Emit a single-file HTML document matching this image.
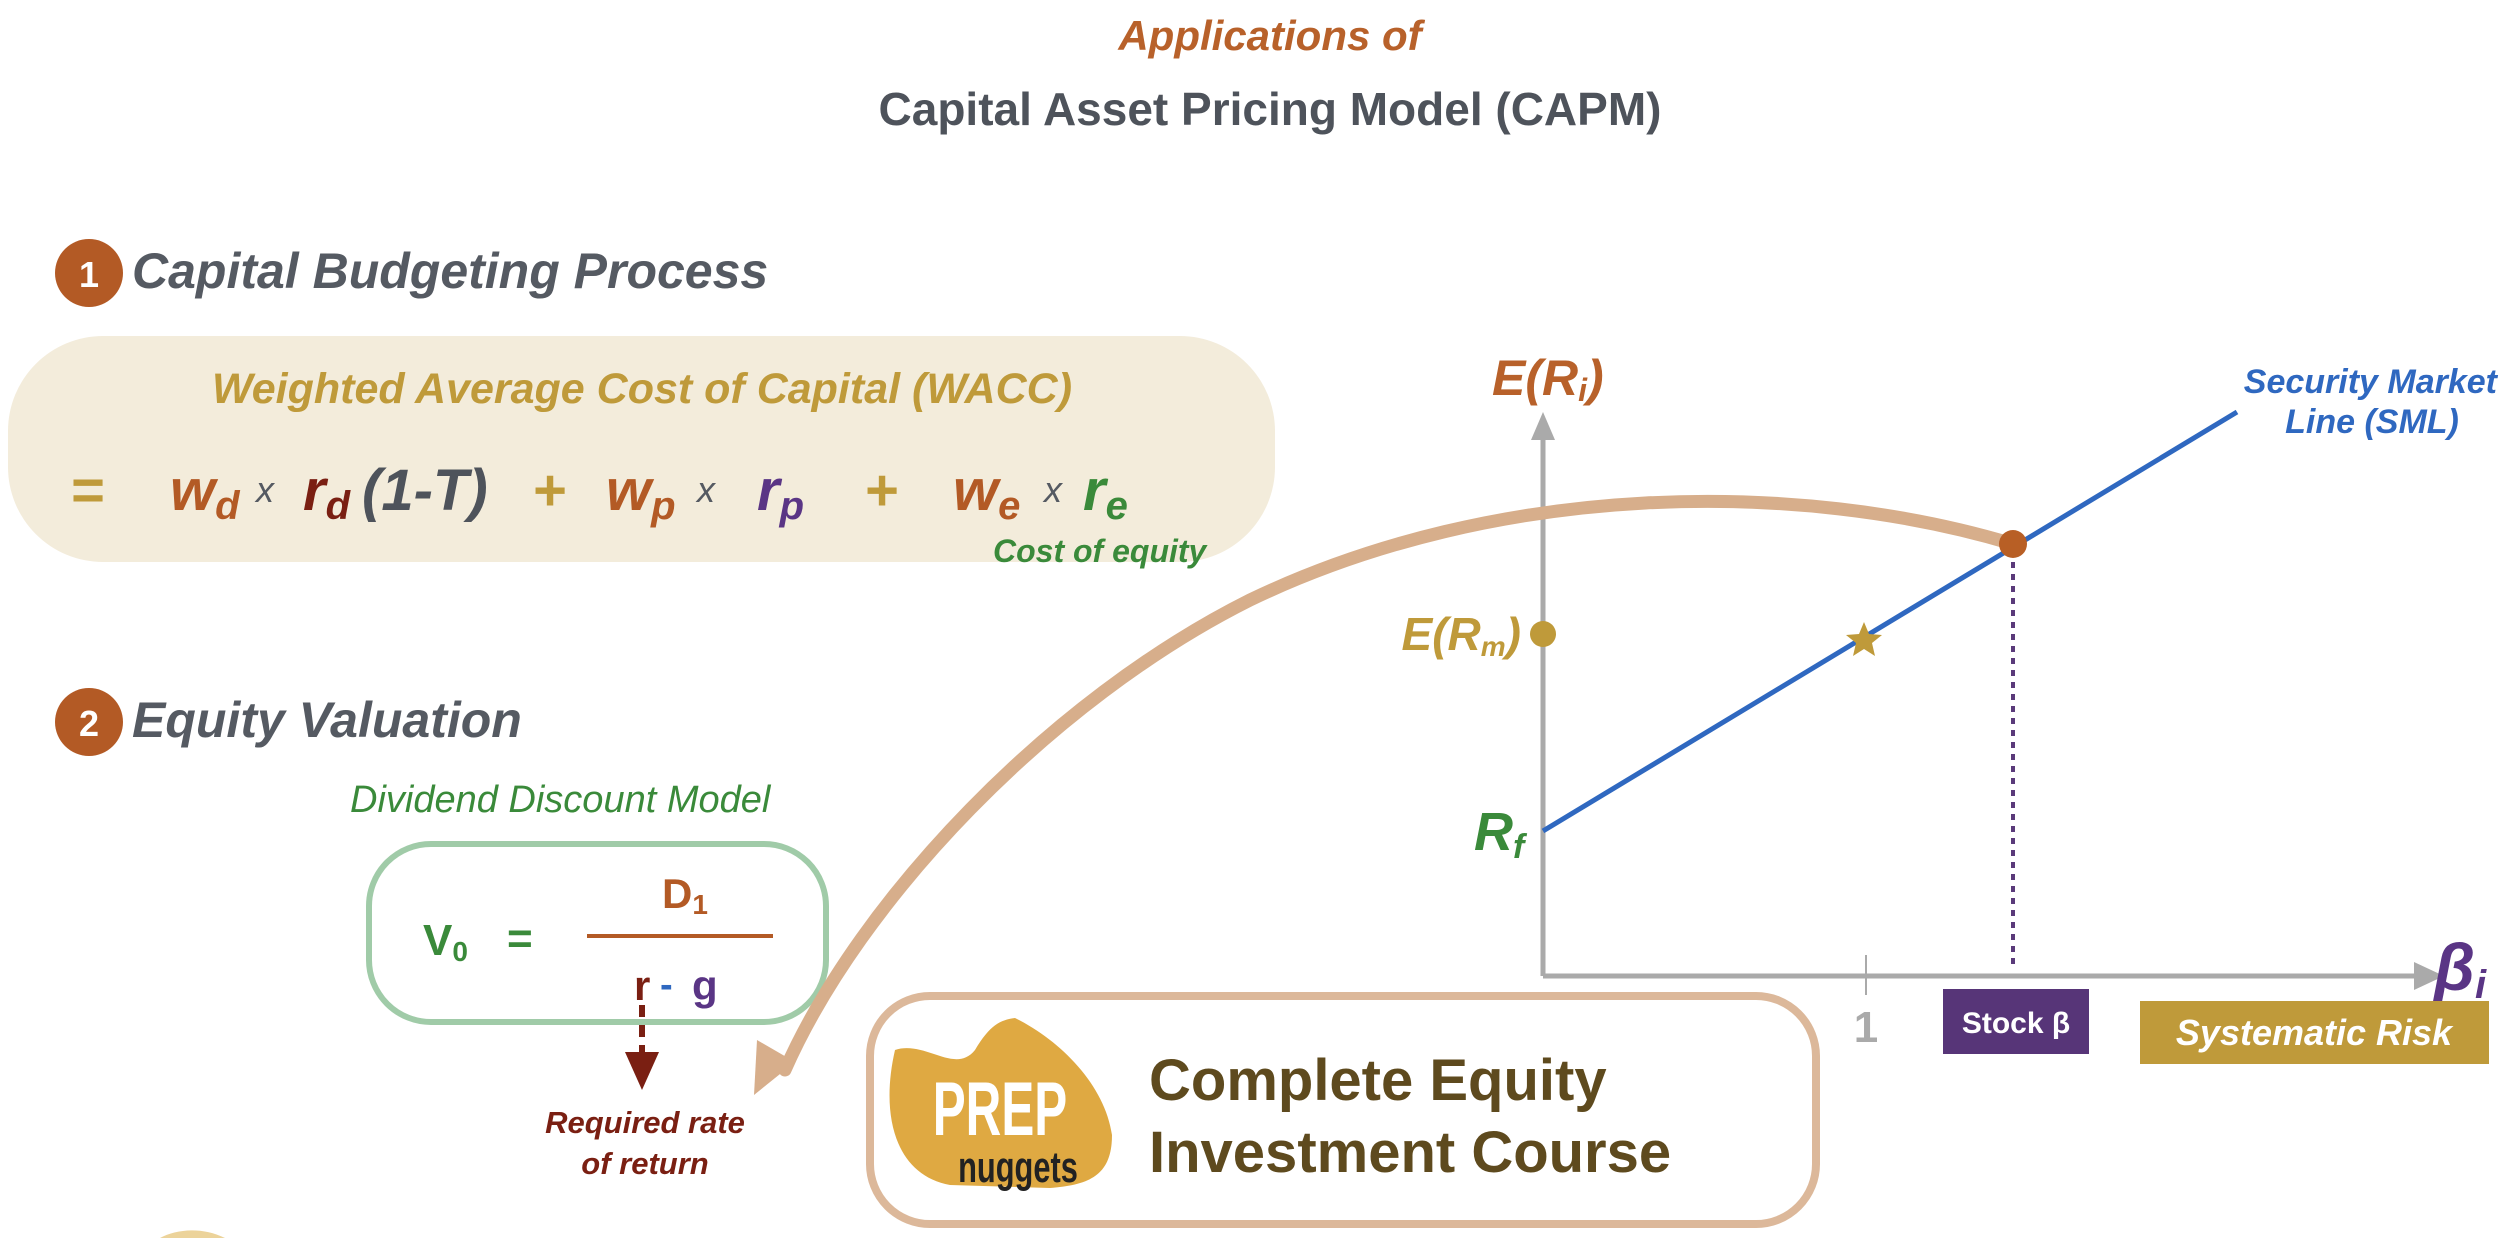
<!DOCTYPE html>
<html><head><meta charset="utf-8"><style>
html,body{margin:0;padding:0;background:#fff}
svg{display:block}
text{font-family:"Liberation Sans",Arial,sans-serif}
</style></head><body>
<svg width="2518" height="1238" viewBox="0 0 2518 1238" xmlns="http://www.w3.org/2000/svg">
<text x="1270" y="50" text-anchor="middle" font-size="42" font-weight="bold" font-style="italic" fill="#b8612a">Applications of</text>
<text x="1270" y="125" text-anchor="middle" font-size="46" font-weight="bold" fill="#4e535b">Capital Asset Pricing Model (CAPM)</text>

<circle cx="89" cy="273" r="34" fill="#b35a25"/>
<text x="89" y="287" text-anchor="middle" font-size="36" font-weight="bold" fill="#fff">1</text>
<text x="132" y="288" font-size="50" font-weight="bold" font-style="italic" fill="#555a62">Capital Budgeting Process</text>

<rect x="8" y="336" width="1267" height="226" rx="95" fill="#f3ecdb"/>
<text x="642" y="403" text-anchor="middle" font-size="43" font-weight="bold" font-style="italic" fill="#bf9a3a">Weighted Average Cost of Capital (WACC)</text>
<g font-weight="bold" font-style="italic" font-size="58">
<text x="70" y="510" fill="#bf9a3a">=</text>
<text x="170" y="510" fill="#b35a25">w<tspan font-size="40" dy="9">d</tspan></text>
<text x="256" y="502" font-size="36" font-weight="normal" fill="#555a62">x</text>
<text x="303" y="510" fill="#7a1f12">r<tspan font-size="40" dy="9">d</tspan></text>
<text x="362" y="510" fill="#4e535b">(1-T)</text>
<text x="532" y="510" fill="#bf9a3a">+</text>
<text x="606" y="510" fill="#b35a25">w<tspan font-size="40" dy="9">p</tspan></text>
<text x="697" y="502" font-size="36" font-weight="normal" fill="#555a62">x</text>
<text x="757" y="510" fill="#5a3585">r<tspan font-size="40" dy="9">p</tspan></text>
<text x="864" y="510" fill="#bf9a3a">+</text>
<text x="953" y="510" fill="#b35a25">w<tspan font-size="40" dy="9">e</tspan></text>
<text x="1044" y="502" font-size="36" font-weight="normal" fill="#555a62">x</text>
<text x="1083" y="510" fill="#3a8a3a">r<tspan font-size="40" dy="9">e</tspan></text>
</g>
<text x="993" y="562" font-size="32" font-weight="bold" font-style="italic" fill="#3a8a3a">Cost of equity</text>

<circle cx="89" cy="722" r="34" fill="#b35a25"/>
<text x="89" y="736" text-anchor="middle" font-size="36" font-weight="bold" fill="#fff">2</text>
<text x="132" y="737" font-size="50" font-weight="bold" font-style="italic" fill="#555a62">Equity Valuation</text>
<text x="350" y="812" font-size="38" font-style="italic" fill="#3a8a3a">Dividend Discount Model</text>

<rect x="369" y="844" width="457" height="178" rx="62" fill="none" stroke="#a0cba8" stroke-width="6"/>
<text x="423" y="955" font-size="44" font-weight="bold" fill="#3a8a3a">V<tspan font-size="28" dy="6">0</tspan></text>
<text x="507" y="953" font-size="44" font-weight="bold" fill="#3a8a3a">=</text>
<line x1="587" y1="936" x2="773" y2="936" stroke="#b35a25" stroke-width="4"/>
<text x="662" y="908" font-size="42" font-weight="bold" fill="#b35a25">D<tspan font-size="28" dy="6">1</tspan></text>
<text x="634" y="1000" font-size="42" font-weight="bold" fill="#7a1f12">r</text>
<text x="660" y="997" font-size="38" font-weight="bold" fill="#2f68c0">-</text>
<text x="692" y="1000" font-size="42" font-weight="bold" fill="#5a3585">g</text>
<line x1="642" y1="1005" x2="642" y2="1058" stroke="#7a1f12" stroke-width="6" stroke-dasharray="12,8"/>
<polygon points="625,1052 659,1052 642,1090" fill="#7a1f12"/>
<text x="645" y="1133" text-anchor="middle" font-size="31" font-weight="bold" font-style="italic" fill="#7a1f12">Required rate</text>
<text x="645" y="1174" text-anchor="middle" font-size="31" font-weight="bold" font-style="italic" fill="#7a1f12">of return</text>

<g transform="translate(-6,0)">
<line x1="1549" y1="976" x2="1549" y2="435" stroke="#aaaaaa" stroke-width="5"/>
<polygon points="1537,440 1561,440 1549,412" fill="#aaaaaa"/>
<line x1="1549" y1="976" x2="2425" y2="976" stroke="#aaaaaa" stroke-width="5"/>
<polygon points="2420,962 2420,990 2450,976" fill="#aaaaaa"/>
<line x1="1872" y1="955" x2="1872" y2="995" stroke="#aaaaaa" stroke-width="2"/>
<text x="1872" y="1042" text-anchor="middle" font-size="44" font-weight="bold" fill="#aaaaaa">1</text>
<line x1="1549" y1="831" x2="2243" y2="412" stroke="#2f68c0" stroke-width="5"/>
<line x1="2019" y1="550" x2="2019" y2="970" stroke="#5a3a7a" stroke-width="4" stroke-dasharray="6,6"/>
</g>

<path d="M2013,544 C1800,480 1500,480 1250,600 C1050,700 860,900 785,1070" fill="none" stroke="#d7ae8b" stroke-width="13" stroke-linecap="round"/>
<polygon points="757,1040 795,1062 754,1095" fill="#d7ae8b"/>

<g transform="translate(-6,0)">
<circle cx="2019" cy="544" r="14" fill="#b85f25"/>
<circle cx="1549" cy="634" r="13" fill="#bf9a3a"/>
<polygon points="1870,622 1875,634 1888,635 1878,643 1881,656 1870,649 1859,656 1862,643 1852,635 1865,634" fill="#bf9a3a"/>
<text x="1498" y="395" font-size="50" font-weight="bold" font-style="italic" fill="#b8612a">E(R<tspan font-size="32" dy="6">i</tspan><tspan dy="-6">)</tspan></text>
<text x="1527" y="650" text-anchor="end" font-size="46" font-weight="bold" font-style="italic" fill="#bf9a3a">E(R<tspan font-size="28" dy="6">m</tspan><tspan dy="-6">)</tspan></text>
<text x="1480" y="850" font-size="54" font-weight="bold" font-style="italic" fill="#3a8a3a">R<tspan font-size="34" dy="8">f</tspan></text>
<text x="2503" y="393" text-anchor="end" font-size="34" font-weight="bold" font-style="italic" fill="#2f68c0">Security Market</text>
<text x="2378" y="433" text-anchor="middle" font-size="34" font-weight="bold" font-style="italic" fill="#2f68c0">Line (SML)</text>
<text x="2440" y="990" font-size="66" font-weight="bold" font-style="italic" fill="#5a3585">β<tspan font-size="40" dy="8">i</tspan></text>
<rect x="1949" y="989" width="146" height="65" fill="#573578"/>
<text x="2022" y="1033" text-anchor="middle" font-size="30" font-weight="bold" fill="#fff">Stock β</text>
<rect x="2146" y="1001" width="349" height="63" fill="#bf9a3a"/>
<text x="2320" y="1045" text-anchor="middle" font-size="36" font-weight="bold" font-style="italic" fill="#fff">Systematic Risk</text>
</g>

<rect x="870" y="996" width="946" height="228" rx="60" fill="#fff" stroke="#dcb89a" stroke-width="8"/>
<path d="M895,1050 C925,1040 955,1075 975,1050 C990,1025 1000,1020 1015,1018 C1060,1040 1105,1085 1112,1135 C1112,1175 1090,1185 1050,1188 L950,1185 C895,1175 880,1115 895,1050 Z" fill="#dfa942"/>
<text x="1000" y="1135" text-anchor="middle" font-size="76" font-weight="bold" fill="#fff" transform="translate(1000,1135) scale(0.65,1) translate(-1000,-1135)">PREP</text>
<text x="1018" y="1182" text-anchor="middle" font-size="44" font-weight="bold" fill="#222" transform="translate(1018,1182) scale(0.7,1) translate(-1018,-1182)">nuggets</text>
<text x="1149" y="1100" font-size="58" font-weight="bold" fill="#5e4a1e">Complete Equity</text>
<text x="1149" y="1172" font-size="58" font-weight="bold" fill="#5e4a1e">Investment Course</text>

<path d="M160,1238 C175,1230 200,1226 225,1238 Z" fill="#ecd39a"/>
</svg>
</body></html>
